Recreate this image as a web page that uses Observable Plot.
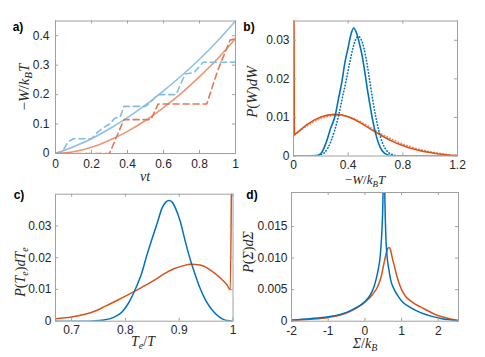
<!DOCTYPE html>
<html><head><meta charset="utf-8">
<script src="https://cdn.jsdelivr.net/npm/d3@7"></script>
<script src="https://cdn.jsdelivr.net/npm/@observablehq/plot@0.6"></script>
<style>
body{margin:0;background:#fff}
#fig{position:relative;width:485px;height:357px;overflow:hidden;background:#fff}
#fig svg{position:absolute;overflow:visible}
</style></head>
<body><div id="fig"></div>
<script>
// ---------- Panel a ----------
const aVt = [0,0.1,0.2,0.3,0.4,0.5,0.6,0.7,0.8,0.9,1.0];
const aBlueSolid = [0,0.023,0.050,0.084,0.122,0.165,0.213,0.264,0.320,0.382,0.450];
const aOrangeSolid = [0,0.006,0.021,0.045,0.075,0.112,0.156,0.205,0.261,0.322,0.390];
const aBlueDashX = [0,0.04,0.07,0.1,0.2,0.23,0.26,0.3,0.33,0.36,0.38,0.5,0.53,0.57,0.67,0.72,0.77,0.82,1.0,1.0];
const aBlueDashY = [0,0.008,0.04,0.05,0.05,0.07,0.085,0.1,0.12,0.125,0.16,0.16,0.175,0.2,0.2,0.27,0.275,0.31,0.31,0.32];
const aOrangeDashX = [0,0.3,0.38,0.53,0.57,0.84,0.9,0.97,1.0];
const aOrangeDashY = [0,0,0.115,0.115,0.168,0.168,0.28,0.385,0.39];
const aXTicks = [0,0.2,0.4,0.6,0.8,1];
const aYTicks = [0,0.1,0.2,0.3,0.4];

// ---------- Panel b ----------
const bBlueX = [0,0.1,0.17,0.2,0.24,0.27,0.305,0.33,0.354,0.375,0.398,0.42,0.44,0.46,0.48,0.505,0.525,0.544,0.56,0.578,0.6,0.62,0.65,0.695,0.75,1.2];
const bBlueY = [0,0,0.0001,0.0006,0.0036,0.007,0.0105,0.015,0.0192,0.024,0.0278,0.0315,0.0332,0.032,0.0295,0.0255,0.021,0.0165,0.0132,0.0095,0.006,0.0035,0.0013,0.0002,0,0];
const bBlueDotX = [0,0.15,0.2,0.25,0.3,0.33,0.36,0.385,0.41,0.435,0.455,0.475,0.495,0.515,0.54,0.56,0.58,0.6,0.625,0.65,0.68,0.72,0.78,1.2];
const bBlueDotY = [0,0,0.0003,0.002,0.0065,0.0105,0.0155,0.0195,0.024,0.028,0.0302,0.031,0.0302,0.028,0.0235,0.019,0.0145,0.0105,0.0065,0.0035,0.0015,0.0004,0,0];
const bOrangeX = [0.003,0.006,0.05,0.1,0.15,0.2,0.25,0.3,0.35,0.4,0.45,0.5,0.55,0.6,0.65,0.7,0.75,0.8,0.85,0.9,0.95,1.0,1.05,1.1,1.15,1.2];
const bOrangeY = [0.04,0.0055,0.0068,0.0082,0.0093,0.0101,0.0106,0.0108,0.0107,0.0102,0.0094,0.0084,0.0073,0.0062,0.0052,0.0042,0.0034,0.0027,0.0021,0.0016,0.0012,0.0009,0.0006,0.0004,0.0002,0.0001];
const bOrangeDotX = [0.01,0.05,0.1,0.15,0.2,0.25,0.3,0.35,0.4,0.45,0.5,0.55,0.6,0.65,0.7,0.75,0.8,0.85,0.9,0.95,1.0,1.05,1.1,1.15,1.2];
const bOrangeDotY = [0.0055,0.0066,0.0078,0.0089,0.0097,0.0102,0.0105,0.0105,0.0102,0.0096,0.0087,0.0077,0.0066,0.0056,0.0047,0.0039,0.0031,0.0025,0.0019,0.0015,0.0011,0.0008,0.0005,0.0003,0.0002];
const bXTicks = [0,0.4,0.8,1.2];
const bYTicks = [0,0.01,0.02,0.03];

// ---------- Panel c ----------
const cBlueX = [0.67,0.72,0.74,0.76,0.772,0.785,0.794,0.805,0.819,0.83,0.84,0.85,0.86,0.868,0.875,0.881,0.887,0.893,0.902,0.91,0.918,0.928,0.939,0.95,0.964,0.975,0.983,0.99,0.998];
const cBlueY = [0,0,0.0001,0.0004,0.0008,0.0018,0.003,0.0055,0.0103,0.015,0.0209,0.0262,0.0314,0.0356,0.0375,0.038,0.0375,0.0356,0.0314,0.026,0.0209,0.0155,0.0103,0.0063,0.003,0.0013,0.0005,0.0002,0];
const cOrangeX = [0.67,0.7,0.723,0.745,0.76,0.785,0.8,0.816,0.832,0.847,0.86,0.871,0.89,0.908,0.921,0.939,0.958,0.976,0.989,0.995,0.997];
const cOrangeY = [0.0008,0.0013,0.0021,0.0033,0.0045,0.0066,0.0079,0.0093,0.0108,0.0122,0.0136,0.0148,0.0165,0.0175,0.0179,0.0177,0.0161,0.0137,0.0114,0.0098,0.041];
const cXTicks = [0.7,0.8,0.9,1];
const cYTicks = [0,0.01,0.02,0.03];

// ---------- Panel d ----------
const dBlueX = [-2,-1.5,-1,-0.5,-0.25,0,0.15,0.25,0.35,0.42,0.46,0.49,0.505,0.515,0.53,0.545,0.57,0.6,0.65,0.7,0.8,0.9,1.0,1.2,1.5,1.8,2.1,2.55];
const dBlueY = [0.0002,0.0004,0.0007,0.0014,0.0021,0.0031,0.0042,0.0055,0.0078,0.0105,0.014,0.019,0.025,0.03,0.025,0.019,0.0135,0.0105,0.0083,0.0066,0.005,0.004,0.0032,0.0023,0.0014,0.0008,0.0004,0.0001];
const dOrangeX = [-2,-1.5,-1,-0.5,-0.2,0,0.2,0.35,0.45,0.52,0.57,0.62,0.66,0.7,0.74,0.8,0.85,0.92,1.0,1.1,1.3,1.5,1.7,1.9,2.1,2.3,2.55];
const dOrangeY = [0.0001,0.0003,0.0006,0.0013,0.0022,0.003,0.0042,0.0055,0.0072,0.0092,0.0105,0.0115,0.0117,0.0113,0.0102,0.0088,0.0076,0.0062,0.005,0.004,0.003,0.0023,0.0017,0.0011,0.0007,0.0004,0.0001];
const dXTicks = [-2,-1,0,1,2];
const dYTicks = [0,0.005,0.010,0.015];

const BLUE = "#0072BD", ORANGE = "#D95319";
const pts = (xs, ys) => xs.map((x, i) => ({x, y: ys[i]}));
const fig = document.getElementById("fig");
const AX = "#a0a0a0";

function panel(o) {
  const innerW = o.width - o.ml - o.mr, innerH = o.height - o.mt - o.mb;
  const marks = [
    ...o.series.map(s => Plot.line(s.data, {x: "x", y: "y", stroke: s.color, strokeWidth: s.w || 1.5,
      strokeDasharray: s.dash, strokeLinecap: s.cap, curve: s.curve || "monotone-x", clip: true})),
    Plot.frame({stroke: AX}),
    Plot.tickX(o.xTicks, {x: d => d, insetTop: innerH - 3, stroke: AX}),
    Plot.tickX(o.xTicks, {x: d => d, insetBottom: innerH - 3, stroke: AX}),
    Plot.tickY(o.yTicks, {y: d => d, insetRight: innerW - 3, stroke: AX}),
    Plot.tickY(o.yTicks, {y: d => d, insetLeft: innerW - 3, stroke: AX}),
    Plot.axisX({ticks: o.xTicks, tickSize: 0, tickPadding: o.xPad, tickFormat: o.xFmt, label: null}),
    Plot.axisY({ticks: o.yTicks, tickSize: 0, tickPadding: o.yPad, tickFormat: o.yFmt, label: null})
  ];
  const svg = Plot.plot({
    width: o.width, height: o.height,
    marginLeft: o.ml, marginRight: o.mr, marginTop: o.mt, marginBottom: o.mb,
    x: {domain: o.xDomain}, y: {domain: o.yDomain},
    style: {fontFamily: "'Liberation Sans', Arial, sans-serif", fontSize: "12px", color: "#262626", background: "transparent", overflow: "visible"},
    marks
  });
  svg.style.left = o.left + "px";
  svg.style.top = o.top + "px";
  fig.appendChild(svg);
  const g = d3.select(svg);
  g.append("text").attr("x", o.tag[1]).attr("y", o.tag[2]).attr("font-weight", "bold")
    .attr("font-size", 12).attr("font-family", "'Liberation Sans', Arial, sans-serif").attr("fill", "#000").text(o.tag[0]);
  addLabel(g, o.xLabel, o.xLab[0], o.xLab[1], false, o.xLab[2] || 14);
  addLabel(g, o.yLabel, o.yLab[0], o.yLab[1], true, o.yLab[2] || 14);
}

// segments: [text, style] where style "i" italic, "u" upright, "s" subscript italic
function addLabel(g, segs, x, y, rotate, size) {
  const t = g.append("text").attr("text-anchor", "middle")
    .attr("font-family", "'Liberation Serif', 'Times New Roman', serif").attr("font-size", size).attr("fill", "#262626");
  if (rotate) t.attr("transform", `translate(${x},${y}) rotate(-90)`);
  else t.attr("transform", `translate(${x},${y})`);
  let shifted = false;
  const sh = Math.round(size * 0.2);
  for (const [txt, st] of segs) {
    const ts = t.append("tspan").text(txt);
    ts.attr("font-style", st === "u" ? "normal" : "italic");
    if (st === "s") { ts.attr("font-size", Math.round(size * 0.7)); if (!shifted) ts.attr("dy", sh); shifted = true; }
    else if (shifted) { ts.attr("dy", -sh); shifted = false; }
  }
}

const fmtA = d => String(d);
panel({left: 0, top: 0, width: 242, height: 183, ml: 55, mr: 7, mt: 20.5, mb: 30,
  xDomain: [0, 1], yDomain: [0, 0.45], xTicks: aXTicks, yTicks: aYTicks, xPad: 6, yPad: 6,
  xFmt: fmtA, yFmt: fmtA, tag: ["a)", 18, 31],
  xLabel: [["νt", "i"]], xLab: [145, 181, 14],
  yLabel: [["−", "u"], ["W", "i"], ["/", "u"], ["k", "i"], ["B", "s"], ["T", "i"]], yLab: [29, 87, 15],
  series: [
    {data: pts(aVt, aBlueSolid), color: "#8fc1e4", w: 1.6},
    {data: pts(aVt, aOrangeSolid), color: "#ec9677", w: 1.6},
    {data: pts(aBlueDashX, aBlueDashY), color: "#84bbe2", w: 1.6, dash: "6,4", curve: "linear"},
    {data: pts(aOrangeDashX, aOrangeDashY), color: "#e07a52", w: 1.6, dash: "6,4", curve: "linear"}
  ]});

panel({left: 242, top: 0, width: 243, height: 183, ml: 51, mr: 28, mt: 20.5, mb: 27.5,
  xDomain: [0, 1.2], yDomain: [0, 0.035], xTicks: bXTicks, yTicks: bYTicks, xPad: 4, yPad: 4,
  xFmt: fmtA, yFmt: fmtA, tag: ["b)", 7, 31],
  xLabel: [["−", "u"], ["W", "i"], ["/", "u"], ["k", "i"], ["B", "s"], ["T", "i"]], xLab: [123, 184, 13],
  yLabel: [["P", "i"], ["(", "u"], ["W", "i"], [")", "u"], ["dW", "i"]], yLab: [15, 92, 15],
  series: [
    {data: pts(bOrangeDotX, bOrangeDotY), color: "#e8896a", w: 1.6, dash: "0.5,2.6", cap: "round"},
    {data: pts(bOrangeX, bOrangeY), color: ORANGE, w: 1.6, curve: "linear"},
    {data: pts(bBlueDotX, bBlueDotY), color: BLUE, w: 1.6, dash: "0.5,2.6", cap: "round"},
    {data: pts(bBlueX, bBlueY), color: BLUE, w: 1.6}
  ]});

panel({left: 0, top: 183, width: 242, height: 174, ml: 55, mr: 9.5, mt: 10.7, mb: 36.3,
  xDomain: [0.67, 1], yDomain: [0, 0.04], xTicks: cXTicks, yTicks: cYTicks, xPad: 4, yPad: 4,
  xFmt: fmtA, yFmt: fmtA, tag: ["c)", 19, 16],
  xLabel: [["T", "i"], ["e", "s"], ["/", "u"], ["T", "i"]], xLab: [143, 163, 14],
  yLabel: [["P", "i"], ["(", "u"], ["T", "i"], ["e", "s"], [")", "u"], ["dT", "i"], ["e", "s"]], yLab: [25, 89, 14],
  series: [
    {data: pts(cOrangeX, cOrangeY), color: ORANGE, w: 1.5, curve: "monotone-x"},
    {data: pts(cBlueX, cBlueY), color: BLUE, w: 1.5}
  ]});

const fmtD = d => d === 0 ? "0" : d.toFixed(3);
const fmtDx = d => String(d).replace("−", "-");
panel({left: 242, top: 183, width: 243, height: 174, ml: 49, mr: 27, mt: 9, mb: 36.3,
  xDomain: [-2, 2.55], yDomain: [0, 0.0204], xTicks: dXTicks, yTicks: dYTicks, xPad: 5, yPad: 4,
  xFmt: fmtDx, yFmt: fmtD, tag: ["d)", 10, 16],
  xLabel: [["Σ", "i"], ["/", "u"], ["k", "i"], ["B", "s"]], xLab: [123, 165, 14],
  yLabel: [["P", "i"], ["(", "u"], ["Σ", "i"], [")", "u"], ["d", "i"], ["Σ", "i"]], yLab: [11, 69, 14],
  series: [
    {data: pts(dOrangeX, dOrangeY), color: ORANGE, w: 1.5},
    {data: pts(dBlueX, dBlueY), color: BLUE, w: 1.5}
  ]});
</script></body></html>
